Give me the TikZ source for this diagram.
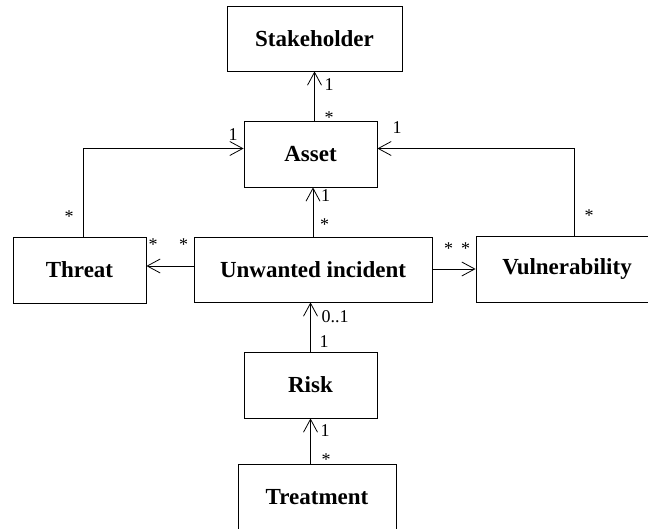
\documentclass[tikz,border=0pt]{standalone}
\usepackage{fontspec}
\setmainfont{Liberation Serif}
\usetikzlibrary{arrows.meta,calc}
\begin{document}
\begin{tikzpicture}[x=1pt,y=-1pt,
  cls/.style={draw, line width=0.8pt, inner sep=0pt,
    font=\fontsize{23}{27}\selectfont\bfseries},
  assoc/.style={line width=0.8pt, -{Straight Barb[length=13pt,width=14pt]}},
  mult/.style={inner sep=0pt, font=\fontsize{18}{21}\selectfont}]
\useasboundingbox (0,0) rectangle (648,529);
\clip (0,0) rectangle (648,529);

% classes
\node[cls, minimum width=175pt, minimum height=65pt] (stake)  at (314.5,38.5) {Stakeholder};
\node[cls, minimum width=133pt, minimum height=66pt] (asset)  at (310.5,154)  {Asset};
\node[cls, minimum width=133pt, minimum height=66pt] (threat) at (79.5,270)   {Threat};
\node[cls, minimum width=238pt, minimum height=65pt] (ui)     at (313,269.5)  {Unwanted incident};
\node[cls, minimum width=182pt, minimum height=66pt] (vuln)   at (567,269)    {Vulnerability};
\node[cls, minimum width=133pt, minimum height=66pt] (risk)   at (310.5,385)  {Risk};
\node[cls, minimum width=158pt, minimum height=66pt] (treat)  at (317,497)    {Treatment};

% associations
\draw[assoc] (stake.south |- asset.north) -- (stake.south);
\draw[assoc] (ui.north) -- (ui.north |- asset.south);
\draw[assoc] (risk.north) -- (risk.north |- ui.south);
\draw[assoc] (risk.south |- treat.north) -- (risk.south);
\draw[assoc] ($(threat.north)+(3.5,0)$) |- ($(asset.west)+(0,-5.5)$);
\draw[assoc] ($(vuln.north)+(7,0)$) |- ($(asset.east)+(0,-5.5)$);
\draw[assoc] ($(ui.west)+(0,-3.5)$) -- ($(threat.east |- ui.west)+(0,-3.5)$);
\draw[assoc] ($(ui.east)+(0,-0.5)$) -- ($(vuln.west |- ui.east)+(0,-0.5)$);

% multiplicities
\node[mult] (m1)  at (329,85)      {1};
\node[mult] (m2)  at (329,118)     {*};
\node[mult] (m3)  at (233,134.5)   {1};
\node[mult] (m4)  at (69,216.5)    {*};
\node[mult] (m5)  at (397,127.5)   {1};
\node[mult] (m6)  at (589,215.5)   {*};
\node[mult] (m7)  at (153,244.5)   {*};
\node[mult] (m8)  at (183.5,244.5) {*};
\node[mult] (m9)  at (448.5,249)   {*};
\node[mult] (m10) at (465.5,249)   {*};
\node[mult] (m11) at (325.5,195.5) {1};
\node[mult] (m12) at (324.5,225)   {*};
\node[mult] (m13) at (335,317)     {0..1};
\node[mult] (m14) at (324,342)     {1};
\node[mult] (m15) at (325,431)     {1};
\node[mult] (m16) at (326,459.5)   {*};
\end{tikzpicture}
\end{document}
